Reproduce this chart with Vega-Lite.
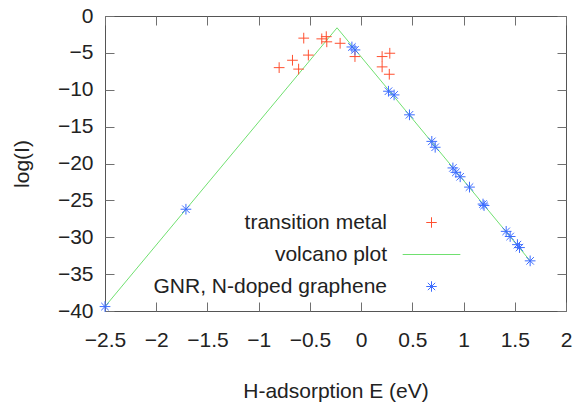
{
  "$schema": "https://vega.github.io/schema/vega-lite/v6.json",
  "autosize": "none",
  "width": 461,
  "height": 295,
  "padding": {"left": 105, "top": 16, "right": 16, "bottom": 93},
  "background": "white",
  "config": {
    "font": "Liberation Sans",
    "view": {"stroke": "#555555", "strokeWidth": 1},
    "axis": {
      "grid": false,
      "domain": false,
      "tickColor": "#707070",
      "tickSize": -9,
      "labelFontSize": 21,
      "labelColor": "#222222",
      "titleFontSize": 21,
      "titleFontWeight": "normal",
      "titleColor": "#222222",
      "labelFont": "Liberation Sans",
      "titleFont": "Liberation Sans"
    },
    "legend": {
      "labelFontSize": 21,
      "labelColor": "#222222",
      "labelFont": "Liberation Sans",
      "labelLimit": 0
    }
  },
  "datasets": {
    "line": [
      {"E": -2.5, "logI": -39.4, "series": "volcano plot"},
      {"E": -0.235, "logI": -1.6, "series": "volcano plot"},
      {"E": 1.65, "logI": -33.2, "series": "volcano plot"}
    ],
    "pts": [
      {"E": -0.56, "logI": -3.0, "series": "transition metal"},
      {"E": -0.384, "logI": -3.1, "series": "transition metal"},
      {"E": -0.34, "logI": -2.8, "series": "transition metal"},
      {"E": -0.335, "logI": -3.5, "series": "transition metal"},
      {"E": -0.205, "logI": -3.7, "series": "transition metal"},
      {"E": -0.515, "logI": -5.3, "series": "transition metal"},
      {"E": -0.67, "logI": -6.0, "series": "transition metal"},
      {"E": -0.61, "logI": -7.2, "series": "transition metal"},
      {"E": -0.8, "logI": -7.0, "series": "transition metal"},
      {"E": -0.06, "logI": -5.5, "series": "transition metal"},
      {"E": 0.205, "logI": -5.5, "series": "transition metal"},
      {"E": 0.28, "logI": -5.05, "series": "transition metal"},
      {"E": 0.205, "logI": -6.9, "series": "transition metal"},
      {"E": 0.275, "logI": -7.9, "series": "transition metal"},
      {"E": -2.5, "logI": -39.4, "series": "GNR, N-doped graphene"},
      {"E": -1.71, "logI": -26.2, "series": "GNR, N-doped graphene"},
      {"E": -0.09, "logI": -4.2, "series": "GNR, N-doped graphene"},
      {"E": -0.06, "logI": -4.6, "series": "GNR, N-doped graphene"},
      {"E": 0.267, "logI": -10.2, "series": "GNR, N-doped graphene"},
      {"E": 0.322, "logI": -10.7, "series": "GNR, N-doped graphene"},
      {"E": 0.472, "logI": -13.4, "series": "GNR, N-doped graphene"},
      {"E": 0.69, "logI": -17.0, "series": "GNR, N-doped graphene"},
      {"E": 0.723, "logI": -17.8, "series": "GNR, N-doped graphene"},
      {"E": 0.896, "logI": -20.6, "series": "GNR, N-doped graphene"},
      {"E": 0.925, "logI": -21.2, "series": "GNR, N-doped graphene"},
      {"E": 0.967, "logI": -21.8, "series": "GNR, N-doped graphene"},
      {"E": 1.058, "logI": -23.2, "series": "GNR, N-doped graphene"},
      {"E": 1.19, "logI": -25.5, "series": "GNR, N-doped graphene"},
      {"E": 1.2, "logI": -25.7, "series": "GNR, N-doped graphene"},
      {"E": 1.416, "logI": -29.2, "series": "GNR, N-doped graphene"},
      {"E": 1.455, "logI": -29.9, "series": "GNR, N-doped graphene"},
      {"E": 1.526, "logI": -31.0, "series": "GNR, N-doped graphene"},
      {"E": 1.546, "logI": -31.4, "series": "GNR, N-doped graphene"},
      {"E": 1.65, "logI": -33.2, "series": "GNR, N-doped graphene"}
    ]
  },
  "layer": [
    {
      "data": {"name": "line"},
      "mark": {"type": "line", "strokeWidth": 1},
      "encoding": {
        "x": {
          "field": "E", "type": "quantitative",
          "scale": {"domain": [-2.5, 2], "nice": false, "zero": false},
          "axis": {"orient": "bottom", "values": [-2.5, -2, -1.5, -1, -0.5, 0, 0.5, 1, 1.5, 2], "format": "~g", "labelPadding": 27, "title": "H-adsorption E (eV)", "titlePadding": 30, "labelFlush": false}
        },
        "y": {
          "field": "logI", "type": "quantitative",
          "scale": {"domain": [-40, 0], "nice": false, "zero": false},
          "axis": {"orient": "left", "values": [-40, -35, -30, -25, -20, -15, -10, -5, 0], "labelPadding": 21, "title": "log(I)", "titlePadding": 25, "labelFlush": false}
        },
        "color": {
          "field": "series", "type": "nominal",
          "scale": {"domain": ["transition metal", "volcano plot", "GNR, N-doped graphene"], "range": ["#ff5030", "#70e070", "#3c6cff"]},
          "legend": {"title": null, "orient": "none", "legendX": 316, "legendY": 196, "labelAlign": "right", "labelOffset": -55, "rowPadding": 10, "padding": 0, "symbolSize": 110, "symbolStrokeWidth": 1, "symbolOpacity": 1}
        }
      }
    },
    {
      "data": {"name": "pts"},
      "mark": {"type": "point", "filled": false, "strokeWidth": 1, "size": 115, "opacity": 1},
      "encoding": {
        "x": {
          "field": "E", "type": "quantitative",
          "axis": {"orient": "top", "values": [-2.5, -2, -1.5, -1, -0.5, 0, 0.5, 1, 1.5, 2], "labels": false, "title": null}
        },
        "y": {
          "field": "logI", "type": "quantitative",
          "axis": {"orient": "right", "values": [-40, -35, -30, -25, -20, -15, -10, -5, 0], "labels": false, "title": null}
        },
        "color": {"field": "series", "type": "nominal"},
        "shape": {
          "field": "series", "type": "nominal",
          "scale": {"domain": ["transition metal", "volcano plot", "GNR, N-doped graphene"], "range": ["M-1,0L1,0M0,-1L0,1", "M-5.5,0L5.5,0", "M-1,0L1,0M0,-1L0,1M-0.7,-0.7L0.7,0.7M-0.7,0.7L0.7,-0.7"]}
        }
      }
    }
  ],
  "resolve": {"axis": {"x": "independent", "y": "independent"}}
}
